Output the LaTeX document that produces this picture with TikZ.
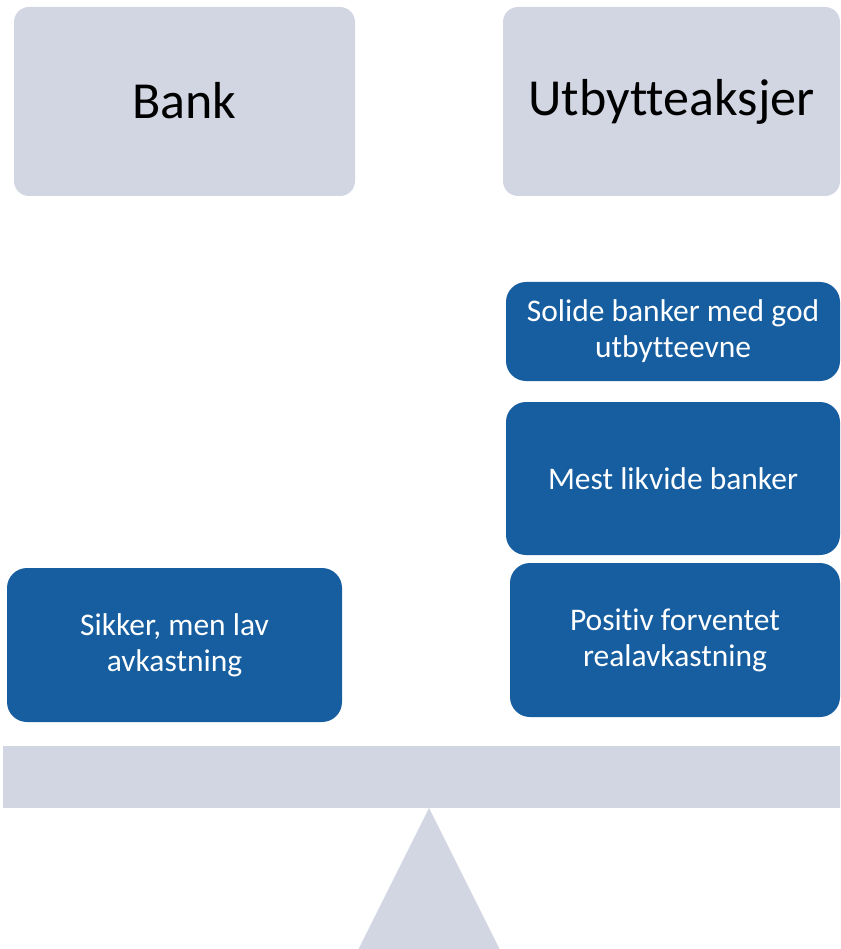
\documentclass[tikz,border=0pt]{standalone}
\usepackage{fontspec}
\setmainfont[Ligatures=CommonOff]{Carlito}
\definecolor{lightbox}{RGB}{209,214,226}
\definecolor{bluebox}{RGB}{22,94,160}
\begin{document}
\begin{tikzpicture}[x=1pt,y=-1pt,
  headbox/.style={fill=lightbox, draw=none, rounded corners=15pt, inner sep=0pt,
    font=\fontsize{52}{62}\selectfont, text=black},
  itembox/.style={fill=bluebox, draw=none, rounded corners=20pt, inner sep=0pt,
    align=center, font=\fontsize{31.5}{36}\selectfont, text=white}]
\useasboundingbox (0,0) rectangle (840,949);
\clip (0,0) rectangle (840,949);
% header boxes
\node[headbox, minimum width=341pt, minimum height=189pt] (bank) at (184.5,101.5) {\raisebox{2pt}{Bank}};
\node[headbox, minimum width=337pt, minimum height=189pt] (utb) at (671.5,101.5) {\raisebox{2pt}{Utbytteaksjer}};
% right column
\node[itembox, minimum width=334pt, minimum height=99pt] (solide) at (673,331.5) {Solide banker med god\\utbytteevne};
\node[itembox, minimum width=334pt, minimum height=153pt] (mest) at (673,478.5) {Mest likvide banker};
\node[itembox, minimum width=330pt, minimum height=154pt] (pos) at (675,640) {Positiv forventet\\realavkastning};
% left column
\node[itembox, minimum width=335pt, minimum height=154pt] (sikker) at (174.5,645) {Sikker, men lav\\avkastning};
% scale
\fill[lightbox] (3,746) rectangle (845,808);
\fill[lightbox] (429,808) -- (501,952) -- (357,952) -- cycle;
\end{tikzpicture}
\end{document}
